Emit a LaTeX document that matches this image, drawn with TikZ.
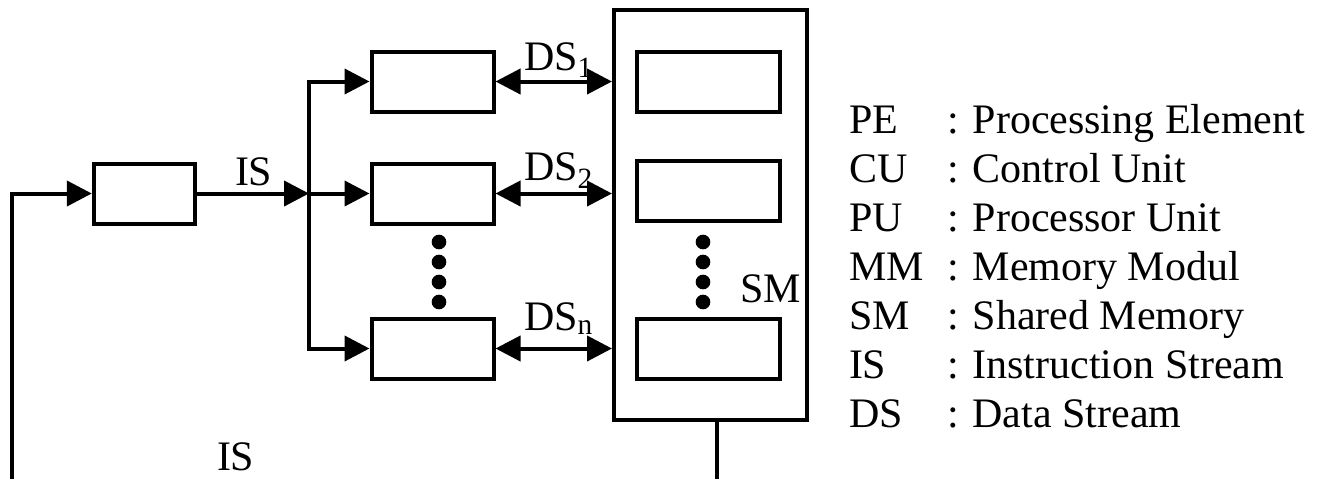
\documentclass[tikz,border=0pt]{standalone}
\usepackage{fontspec}
\setmainfont{Liberation Serif}
\usetikzlibrary{arrows.meta}
\tikzset{every picture/.style={line width=3pt}}
\tikzset{
  blok/.style={draw, minimum width=91.5pt, minimum height=45pt, inner sep=0pt},
  cublok/.style={blok, minimum width=76pt},
  mmblok/.style={blok, minimum width=107pt},
  smblok/.style={draw, minimum width=144.75pt, minimum height=307.5pt, inner sep=0pt},
  teks/.style={anchor=base west, inner sep=0pt, font=\fontsize{31.5}{36}\selectfont},
  panah/.style={-{Triangle[length=18.75pt,width=18.75pt]}},
  panahdua/.style={{Triangle[length=18.75pt,width=18.75pt]}-{Triangle[length=18.75pt,width=18.75pt]}},
}

\begin{document}
\begin{tikzpicture}[x=0.75pt,y=0.75pt,yscale=-1,xscale=1]
		\useasboundingbox (0,0) rectangle (1321,479);
		
		%Shape: Rectangle (CU)
		\node[cublok] (cu) at (144.5,193.5) {};
		
		%Shape: Rectangle (PE)
		\node[blok] (pe1) at (432.5,81.5) {};
		\node[blok] (pe2) at (432.5,193.5) {};
		\node[blok] (pen) at (432.5,348.5) {};
		
		%Shape: Rectangle (SM)
		\node[smblok] (sm) at (710.5,215) {};
		\node[mmblok] (mm1) at (708.5,81.5) {};
		\node[mmblok] (mm2) at (708.5,191) {};
		\node[mmblok] (mmn) at (708.5,348.5) {};
		
		%Coordinates
		\coordinate (fb) at (12,479);
		\coordinate (bus) at (309,193.5);
		\coordinate (smout) at (717,479);
		
		%Straight Lines
		\draw [panah] (fb) |- (cu.west) ;
		\draw [panah] (cu.east) -- (bus) ;
		\draw [panah] (bus) |- (pe1.west) ;
		\draw [panah] (bus) -- (pe2.west) ;
		\draw [panah] (bus) |- (pen.west) ;
		\draw (smout |- sm.south) -- (smout) ;
		
		%Straight Lines (DS)
		\draw [panahdua] (pe1.east) -- (pe1.east -| sm.west) ;
		\draw [panahdua] (pe2.east) -- (pe2.east -| sm.west) ;
		\draw [panahdua] (pen.east) -- (pen.east -| sm.west) ;
		
		%Shape: Circle (dots)
		\foreach \y in {242,262,282,302} {
			\fill (439,\y) circle (5.5pt) ;
			\fill (703,\y) circle (5.5pt) ;
		}
		
		%Text
		\node[teks] (is1) at (233,185) {IS};
		\node[teks] (is2) at (215,470) {IS};
		\node[teks] (ds1) at (522,70) {DS\textsubscript{1}};
		\node[teks] (ds2) at (522,180) {DS\textsubscript{2}};
		\node[teks] (dsn) at (522,330) {DS\textsubscript{n}};
		\node[teks] (smlbl) at (738,302) {SM};
		
		%Legend
		\foreach \ab/\tx [count=\i from 0] in {PE/Processing Element, CU/Control Unit, PU/Processor Unit, MM/Memory Modul, SM/Shared Memory, IS/Instruction Stream, DS/Data Stream} {
			\node[teks] (ab\i) at (847,133+49*\i) {\ab};
			\node[teks] (tx\i) at (945,133+49*\i) {: \tx};
		}
		
\end{tikzpicture}
\end{document}
